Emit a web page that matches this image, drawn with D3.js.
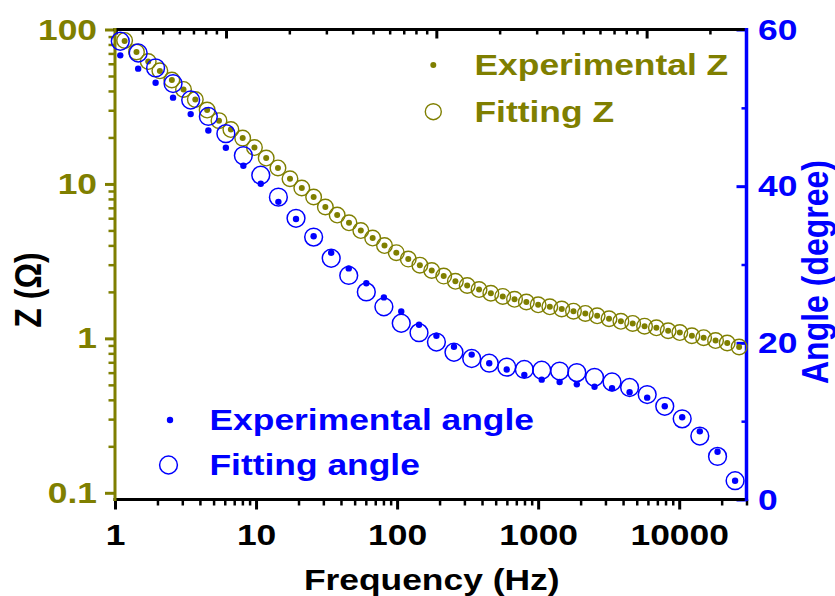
<!DOCTYPE html>
<html>
<head>
<meta charset="utf-8">
<script src="https://cdn.jsdelivr.net/npm/d3@7"></script>
<style>
  body { margin: 0; background: #fff; }
  text { font-family: "Liberation Sans", Arial, sans-serif; font-weight: bold; }
</style>
</head>
<body>
<div id="chart"></div>
<script>
// Z data (bottom frequency axis)
var freqZ = [1.17, 1.42, 1.72, 2.08, 2.53, 3.06, 3.71, 4.50, 5.46, 6.63, 8.04, 9.74,
  11.8, 14.3, 17.4, 21.1, 25.6, 31.0, 37.6, 45.6, 55.3, 67.1, 81.4, 98.7,
  120, 145, 176, 214, 259, 314, 381, 462, 561, 680, 825, 1000,
  1210, 1470, 1780, 2160, 2620, 3180, 3860, 4680, 5680, 6890, 8350, 10100,
  12300, 14900, 18100, 21900, 26600];
var zExp = [84.2, 71.5, 62.0, 53.8, 47.1, 40.9, 35.2, 30.1, 25.7, 22.5, 19.8, 17.2,
  14.7, 12.7, 10.8, 9.41, 8.23, 7.09, 6.29, 5.60, 4.99, 4.46, 3.99, 3.59,
  3.26, 2.98, 2.75, 2.53, 2.34, 2.20, 2.07, 1.96, 1.87, 1.79, 1.72, 1.65,
  1.60, 1.55, 1.50, 1.45, 1.40, 1.34, 1.29, 1.25, 1.20, 1.17, 1.12, 1.09,
  1.04, 1.01, 0.968, 0.933, 0.879];
var zFit = [85.0, 71.5, 62.0, 54.0, 47.1, 40.9, 35.2, 30.1, 25.7, 22.5, 19.8, 17.2,
  14.7, 12.7, 10.8, 9.41, 8.23, 7.09, 6.29, 5.60, 4.99, 4.46, 3.99, 3.59,
  3.26, 2.98, 2.75, 2.53, 2.34, 2.20, 2.07, 1.96, 1.87, 1.79, 1.72, 1.65,
  1.60, 1.55, 1.50, 1.45, 1.40, 1.34, 1.29, 1.25, 1.20, 1.17, 1.12, 1.09,
  1.04, 1.01, 0.968, 0.933, 0.879];

// angle data
var freqA = [1.09, 1.46, 1.94, 2.58, 3.44, 4.59, 6.11, 8.13, 10.8, 14.4, 19.2, 25.6,
  34.1, 45.4, 60.5, 80.6, 107, 143, 190, 253, 338, 450, 599, 798,
  1060, 1420, 1880, 2510, 3340, 4450, 5930, 7900, 10500, 14000, 18700, 24900];
var angleExp = [56.7, 55.0, 53.2, 51.3, 49.2, 47.1, 44.9, 42.6, 40.3, 38.0, 35.8, 33.6,
  31.5, 29.5, 27.6, 25.8, 24.0, 22.3, 20.9, 19.5, 18.5, 17.4, 16.6, 15.9,
  15.3, 15.0, 14.7, 14.4, 14.2, 13.7, 13.0, 11.9, 10.5, 8.7, 6.1, 2.4];
var angleFit = [58.5, 57.0, 55.1, 53.1, 51.0, 48.9, 46.7, 43.9, 41.4, 38.6, 35.9, 33.5,
  30.8, 28.6, 26.5, 24.6, 22.5, 21.3, 20.1, 18.8, 18.0, 17.4, 16.9, 16.6,
  16.5, 16.4, 16.2, 15.6, 15.0, 14.3, 13.4, 11.9, 10.3, 8.1, 5.5, 2.4];

// ticks
var xMajor = [1, 10, 100, 1000, 10000];
var zMajor = [0.1, 1, 10, 100];
var angleMajor = [0, 20, 40, 60];
var angleMinor = [10, 30, 50];

var OLIVE = "#7f7f00", BLUE = "#0000ff";
var SX = 1.18; // text is a bit wide in the source

var W = 835, H = 596;
var pL = 115, pR = 746.5, pT = 29.5, pB = 499.5;

var svg = d3.select("#chart").append("svg")
  .attr("width", W).attr("height", H);

var x = d3.scaleLog().domain([1, 30000]).range([pL, pR]);
// top axis belongs to the second layer, own range
var xTop = d3.scaleLog().domain([2.965, 2985]).range([pL, pR]);
var yZ = d3.scaleLog().domain([0.0905, 100]).range([pB, pT]);
var yA = d3.scaleLinear().domain([0, 60]).range([pB, pT]);

function minors(lo, hi) {
  var out = [];
  for (var d = Math.pow(10, Math.floor(Math.log10(lo))); d < hi; d *= 10) {
    for (var m = 2; m <= 9; m++) {
      var v = d * m;
      if (v >= lo && v <= hi) out.push(v);
    }
  }
  return out;
}

function stretch(g) {
  g.selectAll("text").each(function () {
    var t = d3.select(this);
    var tx = +t.attr("x") || 0;
    t.attr("x", 0).attr("transform", "translate(" + tx + ",0) scale(" + SX + ",1)");
  });
}

function styleAxis(g, color, sw) {
  g.select(".domain").remove();
  g.selectAll("line").attr("stroke", color).attr("stroke-width", sw);
  g.selectAll("text").attr("fill", color).style("font-size", "30px")
    .style("font-family", "'Liberation Sans', Arial, sans-serif").style("font-weight", "bold");
}

// bottom axis
var gB = svg.append("g").attr("transform", "translate(0," + pB + ")");
gB.append("g").call(d3.axisBottom(x).tickValues(minors(1, 30000)).tickSize(6).tickFormat("").tickSizeOuter(0))
  .call(styleAxis, "#000", 2.5);
gB.append("g").call(d3.axisBottom(x).tickValues(xMajor).tickSize(10).tickPadding(14.5).tickFormat(d3.format("d")).tickSizeOuter(0))
  .call(styleAxis, "#000", 3).call(stretch);

// top axis (no labels, ticks inward)
var gT = svg.append("g").attr("transform", "translate(0," + pT + ")");
gT.append("g").call(d3.axisTop(xTop).tickValues(minors(2.965, 2985)).tickSize(-5).tickFormat("").tickSizeOuter(0))
  .call(styleAxis, "#000", 2.5);
gT.append("g").call(d3.axisTop(xTop).tickValues([10, 100, 1000]).tickSize(-9).tickFormat("").tickSizeOuter(0))
  .call(styleAxis, "#000", 3);

// left Z axis
var gL = svg.append("g").attr("transform", "translate(" + pL + ",0)");
gL.append("g").call(d3.axisLeft(yZ).tickValues(minors(0.0905, 100)).tickSize(6.5).tickFormat("").tickSizeOuter(0))
  .call(styleAxis, OLIVE, 2.5);
gL.append("g").call(d3.axisLeft(yZ).tickValues(zMajor).tickSize(10).tickPadding(8).tickFormat(function (d) { return d < 1 ? "0.1" : d3.format("d")(d); }).tickSizeOuter(0))
  .call(styleAxis, OLIVE, 3).call(stretch);

// right angle axis (ticks inward)
var gR = svg.append("g").attr("transform", "translate(" + pR + ",0)");
gR.append("g").call(d3.axisRight(yA).tickValues(angleMinor).tickSize(-5).tickFormat("").tickSizeOuter(0))
  .call(styleAxis, BLUE, 2.5);
gR.append("g").call(d3.axisRight(yA).tickValues(angleMajor).tickSize(-10).tickPadding(11.5).tickSizeOuter(0))
  .call(styleAxis, BLUE, 3).call(stretch);

// frame lines
svg.append("line").attr("x1", pL - 1.5).attr("x2", pR + 1.5).attr("y1", pT).attr("y2", pT)
  .attr("stroke", "#000").attr("stroke-width", 3);
svg.append("line").attr("x1", pL - 1.5).attr("x2", pR + 1.5).attr("y1", pB).attr("y2", pB)
  .attr("stroke", "#000").attr("stroke-width", 3);
svg.append("line").attr("x1", pL).attr("x2", pL).attr("y1", pT - 1.5).attr("y2", pB + 1.5)
  .attr("stroke", OLIVE).attr("stroke-width", 3);
svg.append("line").attr("x1", pR).attr("x2", pR).attr("y1", pT - 1.5).attr("y2", pB + 1.5)
  .attr("stroke", BLUE).attr("stroke-width", 3.5);

// data
var zIdx = d3.range(freqZ.length);
var aIdx = d3.range(freqA.length);

svg.append("g").selectAll("circle").data(zIdx).enter().append("circle")
  .attr("cx", function (i) { return x(freqZ[i]); })
  .attr("cy", function (i) { return yZ(zFit[i]); })
  .attr("r", 7.8).attr("fill", "none").attr("stroke", OLIVE).attr("stroke-width", 1.4);
svg.append("g").selectAll("circle").data(zIdx).enter().append("circle")
  .attr("cx", function (i) { return x(freqZ[i]); })
  .attr("cy", function (i) { return yZ(zExp[i]); })
  .attr("r", 3).attr("fill", OLIVE);

svg.append("g").selectAll("circle").data(aIdx).enter().append("circle")
  .attr("cx", function (i) { return x(freqA[i]); })
  .attr("cy", function (i) { return yA(angleFit[i]); })
  .attr("r", 8.9).attr("fill", "none").attr("stroke", BLUE).attr("stroke-width", 1.5);
svg.append("g").selectAll("circle").data(aIdx).enter().append("circle")
  .attr("cx", function (i) { return x(freqA[i]); })
  .attr("cy", function (i) { return yA(angleExp[i]); })
  .attr("r", 3.2).attr("fill", BLUE);

// legends
function label(tx, ty, str, color, anchor, rot, size) {
  svg.append("text")
    .attr("transform", "translate(" + tx + "," + ty + ") scale(" + SX + ",1)" + (rot ? " rotate(-90)" : ""))
    .attr("text-anchor", anchor || "start")
    .attr("fill", color)
    .style("font-size", (size || 30) + "px")
    .text(str);
}

svg.append("circle").attr("cx", 433.3).attr("cy", 65).attr("r", 3).attr("fill", OLIVE);
svg.append("circle").attr("cx", 433.3).attr("cy", 111.7).attr("r", 8)
  .attr("fill", "none").attr("stroke", OLIVE).attr("stroke-width", 1.4);
label(474.5, 75, "Experimental Z", OLIVE);
label(474.5, 121.7, "Fitting Z", OLIVE);

svg.append("circle").attr("cx", 170).attr("cy", 420).attr("r", 3.2).attr("fill", BLUE);
svg.append("circle").attr("cx", 168.5).attr("cy", 465).attr("r", 8.9)
  .attr("fill", "none").attr("stroke", BLUE).attr("stroke-width", 1.5);
label(209.5, 430, "Experimental angle", BLUE);
label(209.5, 475, "Fitting angle", BLUE);

// axis titles
label(431.7, 590, "Frequency (Hz)", "#000", "middle");
label(41, 290, "Z (\u03a9)", "#000", "middle", true, 32);
label(828, 272, "Angle (degree)", BLUE, "middle", true, 32);
</script>
</body>
</html>
